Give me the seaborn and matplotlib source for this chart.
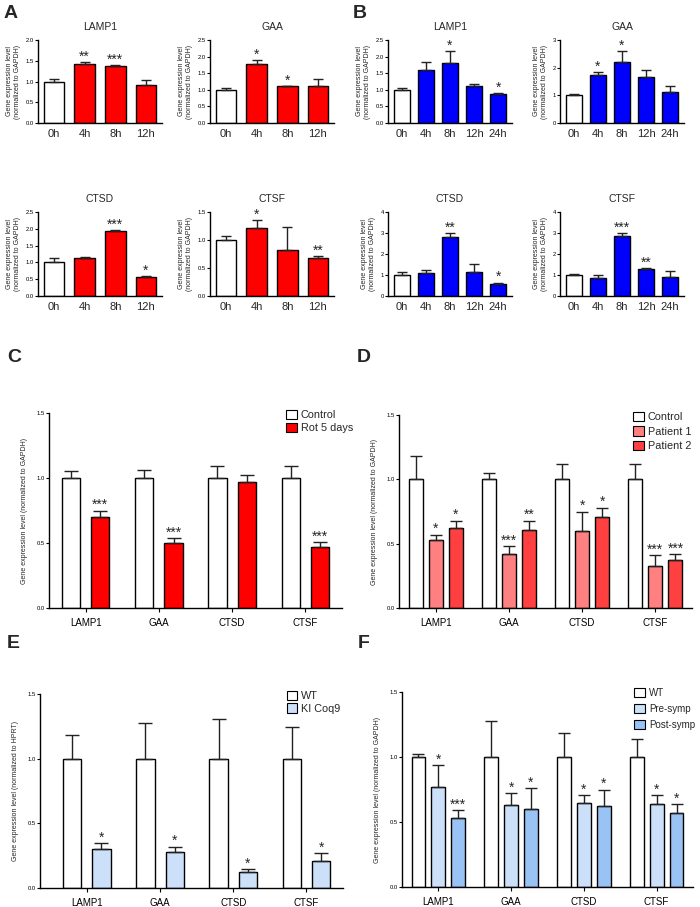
import numpy as np
import pandas as pd
import matplotlib
matplotlib.use("Agg")
import matplotlib.pyplot as plt
from matplotlib.patches import Patch
from matplotlib.ticker import FormatStrFormatter
import seaborn as sns

sns.set_theme(style="ticks")
plt.rcParams['font.family'] = ['Liberation Sans', 'DejaVu Sans']

hours_a = ['0h', '4h', '8h', '12h']
hours_b = ['0h', '4h', '8h', '12h', '24h']
genes = ['LAMP1', 'GAA', 'CTSD', 'CTSF']

# A - time course (red)
a_lamp1 = [1.00, 1.42, 1.37, 0.92]
a_lamp1_err = [0.06, 0.05, 0.02, 0.11]
a_lamp1_sig = ['', '**', '***', '']
a_gaa = [1.00, 1.78, 1.10, 1.12]
a_gaa_err = [0.05, 0.12, 0.02, 0.21]
a_gaa_sig = ['', '*', '*', '']
a_ctsd = [1.00, 1.13, 1.93, 0.56]
a_ctsd_err = [0.13, 0.03, 0.03, 0.03]
a_ctsd_sig = ['', '', '***', '*']
a_ctsf = [1.00, 1.21, 0.83, 0.68]
a_ctsf_err = [0.08, 0.14, 0.40, 0.04]
a_ctsf_sig = ['', '*', '', '**']

# B - time course (blue)
b_lamp1 = [1.00, 1.60, 1.81, 1.11, 0.86]
b_lamp1_err = [0.06, 0.24, 0.36, 0.07, 0.03]
b_lamp1_sig = ['', '', '*', '', '*']
b_gaa = [1.00, 1.75, 2.20, 1.65, 1.12]
b_gaa_err = [0.06, 0.10, 0.40, 0.28, 0.20]
b_gaa_sig = ['', '*', '*', '', '']
b_ctsd = [1.00, 1.10, 2.79, 1.14, 0.56]
b_ctsd_err = [0.12, 0.12, 0.19, 0.37, 0.08]
b_ctsd_sig = ['', '', '**', '', '*']
b_ctsf = [1.00, 0.87, 2.86, 1.28, 0.89]
b_ctsf_err = [0.07, 0.14, 0.14, 0.06, 0.28]
b_ctsf_sig = ['', '', '***', '**', '']

# C
c_control = [1.0, 1.0, 1.0, 1.0]
c_control_err = [0.055, 0.06, 0.09, 0.095]
c_rot = [0.70, 0.50, 0.97, 0.47]
c_rot_err = [0.05, 0.035, 0.05, 0.04]
c_rot_sig = ['***', '***', '', '***']

# D
d_control = [1.0, 1.0, 1.0, 1.0]
d_control_err = [0.18, 0.05, 0.12, 0.12]
d_p1 = [0.53, 0.42, 0.60, 0.33]
d_p1_err = [0.04, 0.06, 0.15, 0.08]
d_p1_sig = ['*', '***', '*', '***']
d_p2 = [0.62, 0.61, 0.71, 0.37]
d_p2_err = [0.06, 0.07, 0.07, 0.05]
d_p2_sig = ['*', '**', '*', '***']

# E
e_wt = [1.0, 1.0, 1.0, 1.0]
e_wt_err = [0.18, 0.275, 0.31, 0.245]
e_ki = [0.30, 0.275, 0.12, 0.21]
e_ki_err = [0.05, 0.045, 0.027, 0.057]
e_ki_sig = ['*', '*', '*', '*']

# F
f_wt = [1.0, 1.0, 1.0, 1.0]
f_wt_err = [0.026, 0.28, 0.185, 0.14]
f_pre = [0.77, 0.63, 0.65, 0.64]
f_pre_err = [0.17, 0.09, 0.06, 0.07]
f_pre_sig = ['*', '*', '*', '*']
f_post = [0.53, 0.60, 0.62, 0.57]
f_post_err = [0.06, 0.16, 0.13, 0.07]
f_post_sig = ['***', '*', '*', '*']

RED = '#ff0000'
BLUE = '#0000ff'
W, H = 700, 907

fig = plt.figure(figsize=(7, 9.07), dpi=100)


def px_rect(x0, y0, x1, y1):
    return [x0 / W, 1 - y1 / H, (x1 - x0) / W, (y1 - y0) / H]


def add_err(ax, bars, errs, sigs, capsize, fs=10):
    for bar, e, s in zip(bars, errs, sigs):
        x = bar.get_x() + bar.get_width() / 2
        h = bar.get_height()
        ax.errorbar(x, h, yerr=[[0], [e]], fmt='none', ecolor='#222222',
                    elinewidth=1, capsize=capsize, capthick=1)
        if s:
            ax.annotate(s, (x, h + e), xytext=(0, 1), textcoords='offset points',
                        ha='center', va='baseline', fontsize=fs)


def style_axis(ax, ymax, ystep, fmt, ticksize):
    sns.despine(ax=ax)
    for sp in ['left', 'bottom']:
        ax.spines[sp].set_linewidth(1.0)
        ax.spines[sp].set_color('black')
    ax.set_ylim(0, ymax)
    ax.set_yticks(np.arange(0, ymax + ystep / 2, ystep))
    ax.yaxis.set_major_formatter(FormatStrFormatter(fmt))
    ax.tick_params(axis='y', length=2, width=0.8, labelsize=ticksize, pad=1, colors='black')


def small_panel(rect, title, cats, vals, errs, sigs, color, ymax, ystep, fmt):
    ax = fig.add_axes(px_rect(*rect))
    sns.barplot(x=cats, y=vals, hue=cats, palette=['white'] + [color] * (len(cats) - 1),
                saturation=1, edgecolor='black', linewidth=1, width=0.68,
                errorbar=None, legend=False, ax=ax)
    bars = [b for c in ax.containers for b in c]
    add_err(ax, bars, errs, sigs, capsize=3.5)
    style_axis(ax, ymax, ystep, fmt, 4.2)
    ax.tick_params(axis='x', length=0, labelsize=8, pad=4)
    ax.set_title(title, fontsize=7.5, pad=7)
    ax.set_ylabel('Gene expression level\n(normalized to GAPDH)', fontsize=5, labelpad=3)
    ax.set_xlabel('')
    return ax


def group_panel(rect, groups, vals, errs, sigs, colors, width, gap, capsize,
                ylabel, legend_x, legend_fs, legend_sp, xlim=(-0.5, 3.5)):
    ax = fig.add_axes(px_rect(*rect))
    rows = []
    for g, v in zip(groups, vals):
        for gene, val in zip(genes, v):
            rows.append({'gene': gene, 'group': g, 'value': val})
    df = pd.DataFrame(rows)
    sns.barplot(data=df, x='gene', y='value', hue='group', hue_order=groups,
                palette=colors, saturation=1, edgecolor='black', linewidth=1,
                width=width, gap=gap, errorbar=None, legend=False, ax=ax)
    for cont, e, s in zip(ax.containers, errs, sigs):
        add_err(ax, list(cont), e, s, capsize=capsize)
    style_axis(ax, 1.5, 0.5, '%.1f', 4.2)
    ax.set_xlim(*xlim)
    ax.tick_params(axis='x', length=3, width=0.8, labelsize=7, pad=4, colors='black')
    ax.set_xlabel('')
    ax.set_ylabel(ylabel, fontsize=5, labelpad=6)
    handles = [Patch(facecolor=c, edgecolor='black', linewidth=0.8) for c in colors]
    k = 7.8 / legend_fs
    ax.legend(handles, groups, loc='upper left', bbox_to_anchor=(legend_x, 1.04),
              frameon=False, fontsize=legend_fs, handlelength=0.95 * k, handleheight=0.95 * k,
              handletextpad=0.4 * k, labelspacing=legend_sp, borderaxespad=0)
    return ax


# Row 1 and 2: small panels
small_panel((38, 40, 162, 123), 'LAMP1', hours_a, a_lamp1, a_lamp1_err, a_lamp1_sig, RED, 2.0, 0.5, '%.1f')
small_panel((210, 40, 334, 123), 'GAA', hours_a, a_gaa, a_gaa_err, a_gaa_sig, RED, 2.5, 0.5, '%.1f')
small_panel((388, 40, 512, 123), 'LAMP1', hours_b, b_lamp1, b_lamp1_err, b_lamp1_sig, BLUE, 2.5, 0.5, '%.1f')
small_panel((560, 40, 684, 123), 'GAA', hours_b, b_gaa, b_gaa_err, b_gaa_sig, BLUE, 3, 1, '%d')
small_panel((38, 212, 162, 296), 'CTSD', hours_a, a_ctsd, a_ctsd_err, a_ctsd_sig, RED, 2.5, 0.5, '%.1f')
small_panel((210, 212, 334, 296), 'CTSF', hours_a, a_ctsf, a_ctsf_err, a_ctsf_sig, RED, 1.5, 0.5, '%.1f')
small_panel((388, 212, 512, 296), 'CTSD', hours_b, b_ctsd, b_ctsd_err, b_ctsd_sig, BLUE, 4, 1, '%d')
small_panel((560, 212, 684, 296), 'CTSF', hours_b, b_ctsf, b_ctsf_err, b_ctsf_sig, BLUE, 4, 1, '%d')

ylab_gapdh = 'Gene expression level (normalized to GAPDH)'
ylab_hprt = 'Gene expression level (normalized to HPRT)'

group_panel((49, 413, 342, 608), ['Control', 'Rot 5 days'], [c_control, c_rot],
            [c_control_err, c_rot_err], [['', '', '', ''], c_rot_sig],
            ['white', RED], 0.8, 0.375, 5, ylab_gapdh, 0.795, 7.8, 0.27)
group_panel((399, 415, 692, 608), ['Control', 'Patient 1', 'Patient 2'], [d_control, d_p1, d_p2],
            [d_control_err, d_p1_err, d_p2_err], [['', '', '', ''], d_p1_sig, d_p2_sig],
            ['white', '#ff8080', '#ff4040'], 0.82, 0.3, 4, ylab_gapdh, 0.785, 7.8, 0.4)
group_panel((40, 694, 343, 888), ['WT', 'KI Coq9'], [e_wt, e_ki],
            [e_wt_err, e_ki_err], [['', '', '', ''], e_ki_sig],
            ['white', '#cce0fa'], 0.8, 0.375, 5, ylab_hprt, 0.8, 7.8, 0.22,
            xlim=(-0.64, 3.5))
group_panel((402, 692, 693, 887), ['WT', 'Pre-symp', 'Post-symp'], [f_wt, f_pre, f_post],
            [f_wt_err, f_pre_err, f_post_err], [['', '', '', ''], f_pre_sig, f_post_sig],
            ['white', '#cce0fa', '#99c2f5'], 0.82, 0.3, 4, ylab_gapdh, 0.785, 7.0, 0.6)

for letter, x, y in [('A', 4, 13), ('B', 353, 13), ('C', 7, 357), ('D', 357, 357),
                     ('E', 7, 644), ('F', 358, 644)]:
    fig.text(x / W, 1 - y / H, letter, fontsize=14, fontweight='bold', va='center', ha='left')

fig.savefig('out.png', dpi=100)
